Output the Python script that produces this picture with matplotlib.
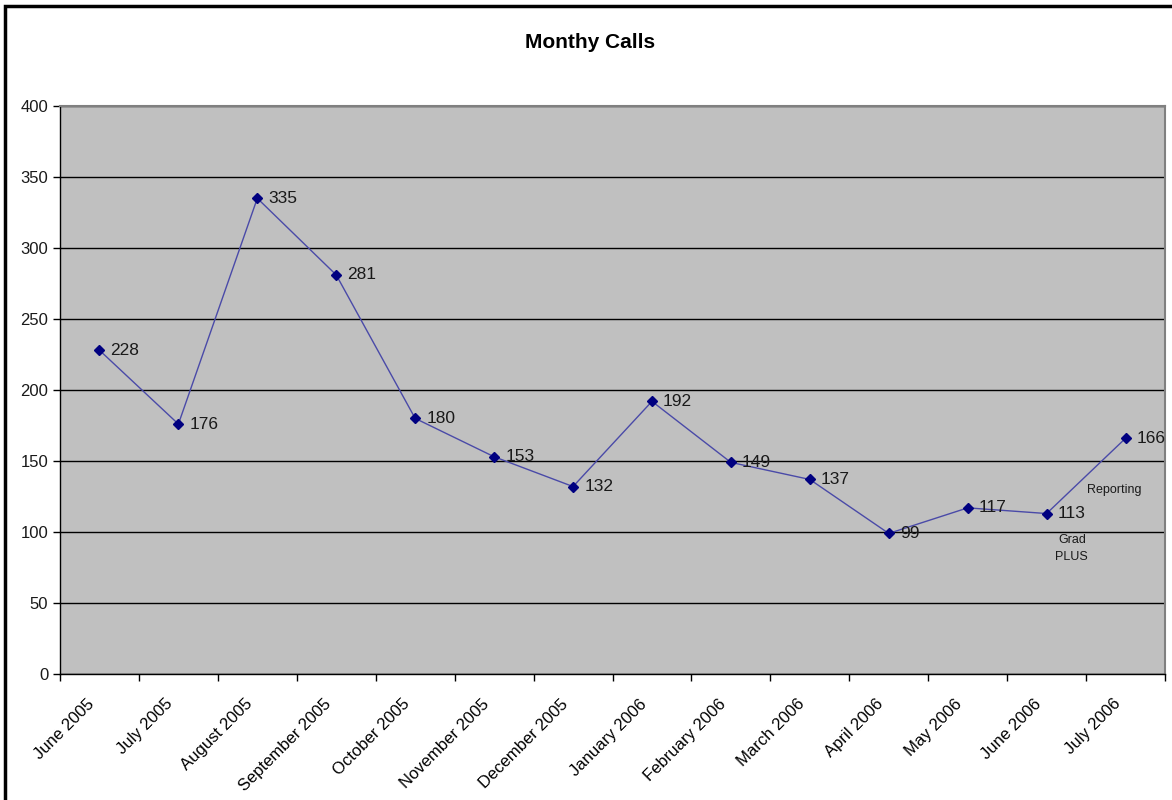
import matplotlib
matplotlib.use("Agg")
import matplotlib.pyplot as plt
import matplotlib.transforms as mtransforms
from matplotlib.patches import Rectangle
import numpy as np

plt.rcParams['font.family'] = ['Liberation Sans', 'DejaVu Sans']

months = ["June 2005", "July 2005", "August 2005", "September 2005", "October 2005",
          "November 2005", "December 2005", "January 2006", "February 2006", "March 2006",
          "April 2006", "May 2006", "June 2006", "July 2006"]
calls = [228, 176, 335, 281, 180, 153, 132, 192, 149, 137, 99, 117, 113, 166]

fig = plt.figure(figsize=(11.72, 8.0), dpi=100)
ax = fig.add_axes([60/1172, 1-674/800, (1165-60)/1172, (674-106)/800])
ax.set_facecolor('#c0c0c0')

n = len(months)
x = np.arange(n)
ax.set_xlim(-0.5, n-0.5)
ax.set_ylim(0, 400)

ax.set_yticks(np.arange(0, 401, 50))
ax.yaxis.grid(True, color='black', linewidth=1)
ax.set_axisbelow(True)

ax.plot(x, calls, color='#4a4aa8', linewidth=1, marker='D', markersize=5,
        markerfacecolor='#000080', markeredgecolor='#000080', zorder=3)
for xi, v in zip(x, calls):
    ax.annotate(str(v), (xi, v), xytext=(8, 0), textcoords='offset points',
                ha='left', va='center', fontsize=12.5, color='#1a1a1a')

ax.text(12.51, 129.5, "Reporting", fontsize=9, ha='left', va='center', color='#1a1a1a')
ax.text(12.32, 98.5, "Grad\nPLUS", fontsize=9, ha='center', va='top', color='#1a1a1a',
        linespacing=1.55)

ax.set_xticks(x)
ax.set_xticklabels(months, rotation=45, ha='right', rotation_mode='anchor', fontsize=12)
ax.tick_params(axis='x', which='major', length=0, pad=16)
offset = mtransforms.ScaledTranslation(-13/100, 0, fig.dpi_scale_trans)
for lab in ax.get_xticklabels():
    lab.set_transform(lab.get_transform() + offset)
ax.set_xticks(np.arange(-0.5, n, 1), minor=True)
ax.tick_params(axis='x', which='minor', length=5, direction='out', width=1)
ax.tick_params(axis='y', length=5, direction='out', labelsize=12, width=1, labelcolor='#1a1a1a')

for s in ['top', 'right']:
    ax.spines[s].set_color('#808080')
    ax.spines[s].set_linewidth(1.5)
for s in ['left', 'bottom']:
    ax.spines[s].set_color('black')
    ax.spines[s].set_linewidth(1)

fig.text(590/1172, 1-43/800, "Monthy Calls", ha='center', va='center', fontsize=15, fontweight='bold')

fig.patches.append(Rectangle((5/1172, -0.1), 1.2, 794/800 + 0.1, transform=fig.transFigure,
                             fill=False, edgecolor='black', linewidth=2.5))

fig.savefig("out.png", dpi=100)
